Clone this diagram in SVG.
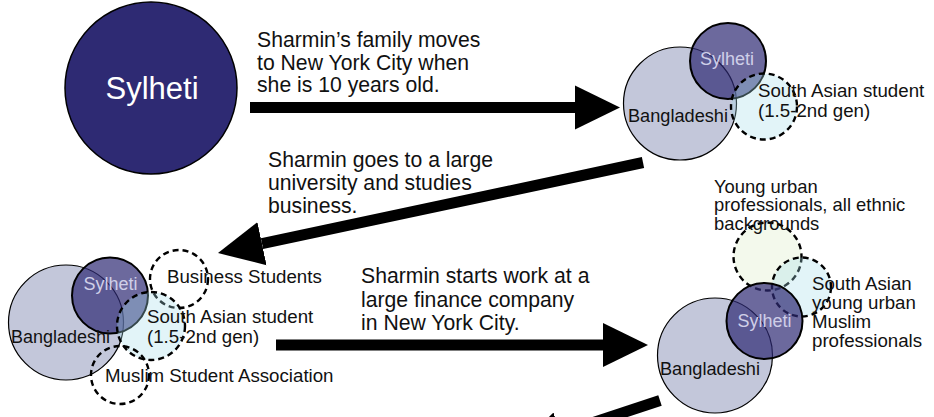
<svg xmlns="http://www.w3.org/2000/svg" width="934" height="417" viewBox="0 0 934 417">
<defs>
<marker id="ah" markerUnits="userSpaceOnUse" markerWidth="48" markerHeight="48" viewBox="0 -24 48 48" refX="0" refY="0" orient="auto">
<path d="M0,-22 L45,0 L0,22 Z" fill="#000"/>
</marker>
</defs>
<style>
text{font-family:"Liberation Sans",Arial,Helvetica,sans-serif;fill:#111}
.big{font-size:21.2px}
.lbl{font-size:18.7px}
.yt{font-size:18.4px}
.syl{fill:#2e2a73;fill-opacity:0.7;stroke:#000;stroke-width:2}
.ban{fill:#c3c7da;stroke:#000;stroke-width:1.2}
.sa{fill:#a4dce9;fill-opacity:0.32;stroke:#000;stroke-width:2.4;stroke-dasharray:6 4}
.yu{fill:#daecc4;fill-opacity:0.32;stroke:#000;stroke-width:2.4;stroke-dasharray:6 4}
.dn{fill:none;stroke:#000;stroke-width:2.4;stroke-dasharray:6 4}
.sylt{fill:#cfcfe8;font-size:18px}
.arr{stroke:#000;stroke-width:11;fill:none;marker-end:url(#ah)}
</style>
<rect width="934" height="417" fill="#fff"/>

<g id="connectors">
<line class="arr" x1="250" y1="107.5" x2="575" y2="107.5"/>
<line class="arr" x1="643" y1="162.5" x2="262" y2="243.7"/>
<line class="arr" x1="276" y1="345" x2="603" y2="345"/>
<line class="arr" x1="660" y1="400.5" x2="560.4" y2="433.4"/>
</g>

<g id="t1">
<text class="big" x="257" y="47">Sharmin’s family moves</text>
<text class="big" x="257" y="69.5">to New York City when</text>
<text class="big" x="257" y="92">she is 10 years old.</text>
</g>
<g id="t2">
<text class="big" x="268" y="167">Sharmin goes to a large</text>
<text class="big" x="268" y="190">university and studies</text>
<text class="big" x="268" y="213">business.</text>
</g>
<g id="t3">
<text class="big" x="361" y="283">Sharmin starts work at a</text>
<text class="big" x="361" y="306.5">large finance company</text>
<text class="big" x="361" y="330">in New York City.</text>
</g>

<g id="node-sylheti-start">
<circle cx="151" cy="88" r="86" fill="#2e2a73" stroke="#000" stroke-width="1.5"/>
<text x="152" y="99" text-anchor="middle" style="font-size:31px;fill:#fff">Sylheti</text>
</g>

<g id="node-stage2">
<circle class="ban" cx="680" cy="103.5" r="56.5"/>
<circle class="syl" cx="728" cy="61" r="38"/>
<circle class="sa" cx="764" cy="106.5" r="33"/>
<text class="sylt" x="727" y="64.5" text-anchor="middle">Sylheti</text>
<text class="lbl" x="628" y="122" textLength="100" lengthAdjust="spacingAndGlyphs">Bangladeshi</text>
<text class="lbl" x="758" y="97">South Asian student</text>
<text class="lbl" x="758" y="117">(1.5-2nd gen)</text>
</g>

<g id="node-stage3">
<circle class="ban" cx="66" cy="322.5" r="57.5"/>
<circle class="syl" cx="110" cy="295.5" r="38"/>
<circle class="dn" cx="179" cy="279" r="29"/>
<circle class="sa" cx="151" cy="326" r="34"/>
<circle class="dn" cx="120" cy="375" r="29"/>
<text class="sylt" x="110.5" y="290" text-anchor="middle">Sylheti</text>
<text class="lbl" x="11" y="343" textLength="99" lengthAdjust="spacingAndGlyphs">Bangladeshi</text>
<text class="lbl" x="167" y="283">Business Students</text>
<text class="lbl" x="147" y="323">South Asian student</text>
<text class="lbl" x="147" y="343">(1.5-2nd gen)</text>
<text class="lbl" x="105" y="382">Muslim Student Association</text>
</g>

<g id="node-stage4">
<circle class="yu" cx="767.5" cy="256.5" r="34"/>
<circle class="sa" cx="801.5" cy="287" r="29.5"/>
<circle class="ban" cx="715" cy="355.5" r="57.5"/>
<circle class="syl" cx="764.5" cy="321" r="38"/>
<text class="sylt" x="764.5" y="327" text-anchor="middle">Sylheti</text>
<text class="lbl" x="660" y="375" textLength="100" lengthAdjust="spacingAndGlyphs">Bangladeshi</text>
<text class="yt" x="714" y="193">Young urban</text>
<text class="yt" x="714" y="211">professionals, all ethnic</text>
<text class="yt" x="714" y="229.5">backgrounds</text>
<text class="lbl" x="812" y="290">South Asian</text>
<text class="lbl" x="812" y="309">young urban</text>
<text class="lbl" x="812" y="328">Muslim</text>
<text class="lbl" x="812" y="347">professionals</text>
</g>
</svg>
